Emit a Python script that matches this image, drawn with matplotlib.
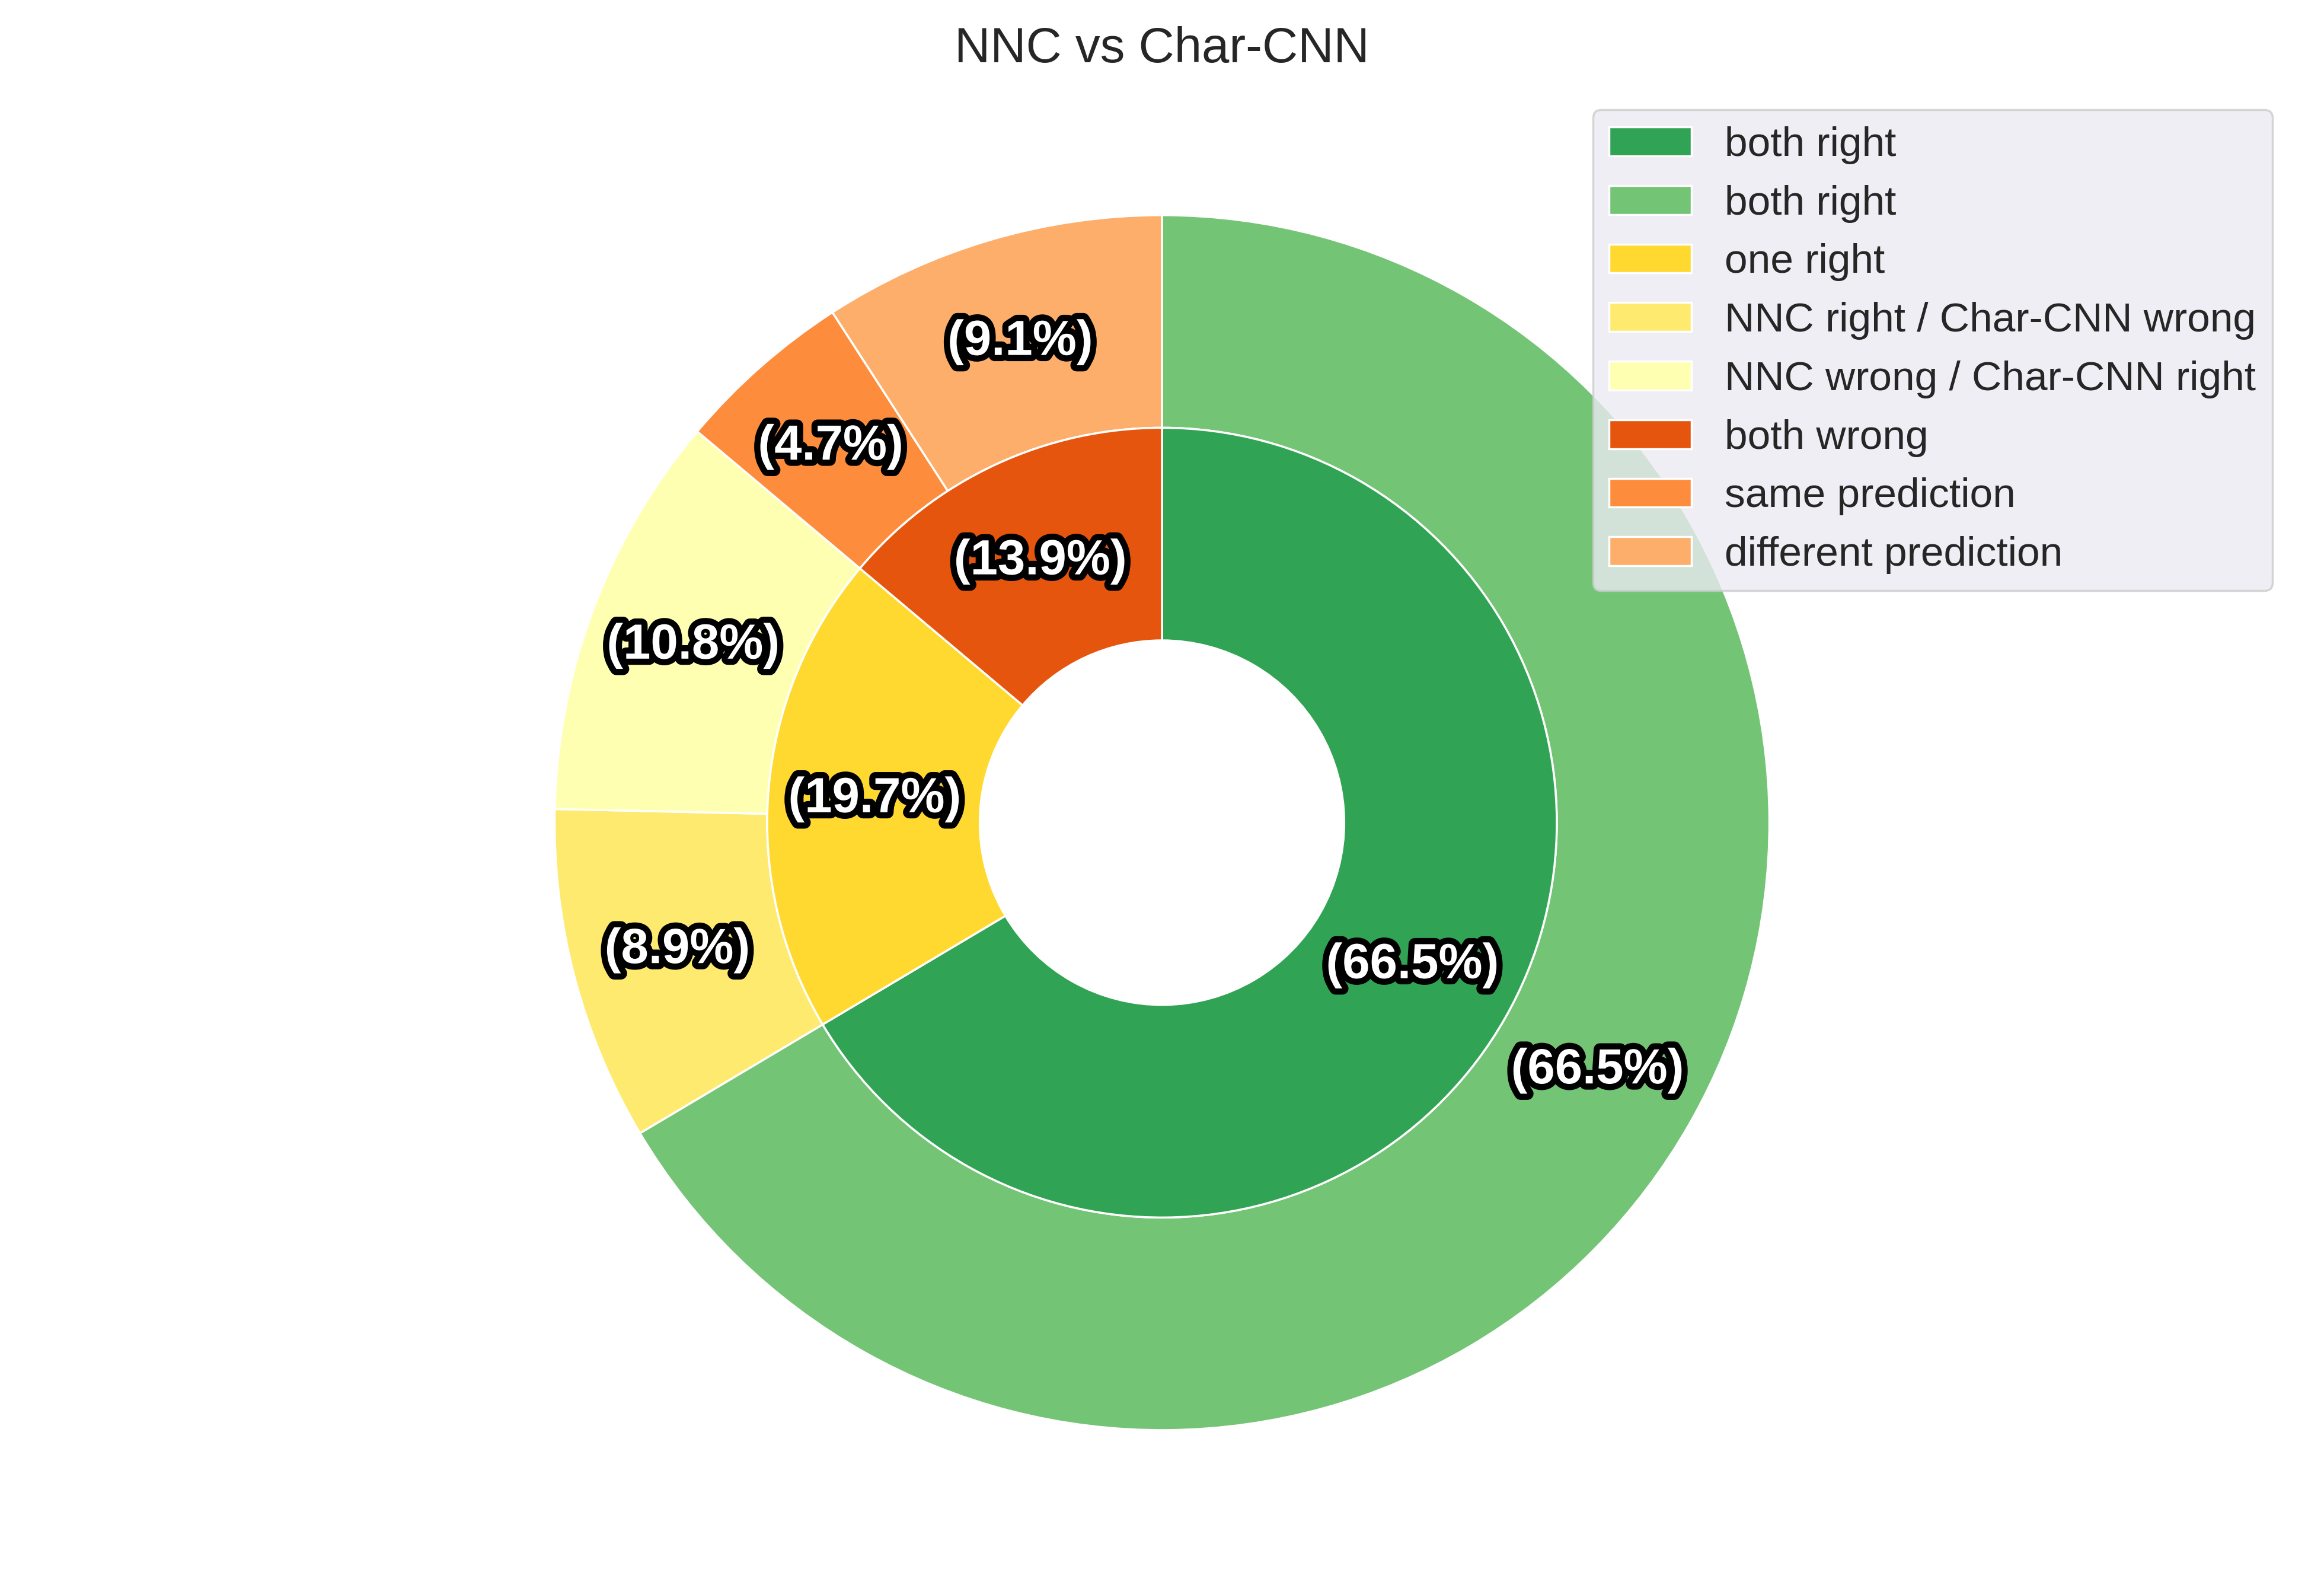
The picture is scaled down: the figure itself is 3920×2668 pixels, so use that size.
import matplotlib.pyplot as plt
import matplotlib.patheffects as pe
import seaborn as sns

sns.set_style("darkgrid")
plt.rcParams['font.family'] = ['Liberation Sans', 'DejaVu Sans']

# inner ring: overall agreement
inner_labels = ["both right", "one right", "both wrong"]
inner_values = [66.48, 19.68, 13.87]
inner_colors = ["#31a354", "#ffd92f", "#e6550d"]

# outer ring: breakdown
outer_labels = ["both right", "NNC right / Char-CNN wrong", "NNC wrong / Char-CNN right",
                "same prediction", "different prediction"]
outer_values = [66.48, 8.90, 10.78, 4.74, 9.13]
outer_colors = ["#74c476", "#ffea70", "#ffffb2", "#fd8d3c", "#fdae6b"]

fig = plt.figure(figsize=(15.68, 10.672), dpi=250)
ax = fig.add_axes([0, 0.0, 1, 0.96])

stroke = [pe.withStroke(linewidth=6, foreground="black")]
fmt = lambda p: "({:.1f}%)".format(p)

out_w, out_t, out_a = ax.pie(outer_values, radius=1.0, colors=outer_colors,
                             startangle=90, counterclock=False, autopct=fmt,
                             pctdistance=0.825,
                             wedgeprops=dict(width=0.35, edgecolor="white", linewidth=1))
in_w, in_t, in_a = ax.pie(inner_values, radius=0.65, colors=inner_colors,
                          startangle=90, counterclock=False, autopct=fmt,
                          pctdistance=0.73,
                          wedgeprops=dict(width=0.35, edgecolor="white", linewidth=1))

for t in out_a + in_a:
    t.set_color("white")
    t.set_fontweight("bold")
    t.set_fontsize(24)
    t.set_path_effects(stroke)

ax.set_xlim(-1.25, 1.25)
ax.set_ylim(-1.25, 1.25)

handles = [in_w[0], out_w[0], in_w[1], out_w[1], out_w[2], in_w[2], out_w[3], out_w[4]]
labels = [inner_labels[0], outer_labels[0], inner_labels[1], outer_labels[1],
          outer_labels[2], inner_labels[2], outer_labels[3], outer_labels[4]]
fig.legend(handles, labels, loc="upper right", bbox_to_anchor=(0.9777, 0.9306),
           borderaxespad=0, fontsize=20, facecolor="#eaeaf2")

fig.suptitle("NNC vs Char-CNN", y=0.969, va="center", fontsize=24)

plt.savefig("out.png")
